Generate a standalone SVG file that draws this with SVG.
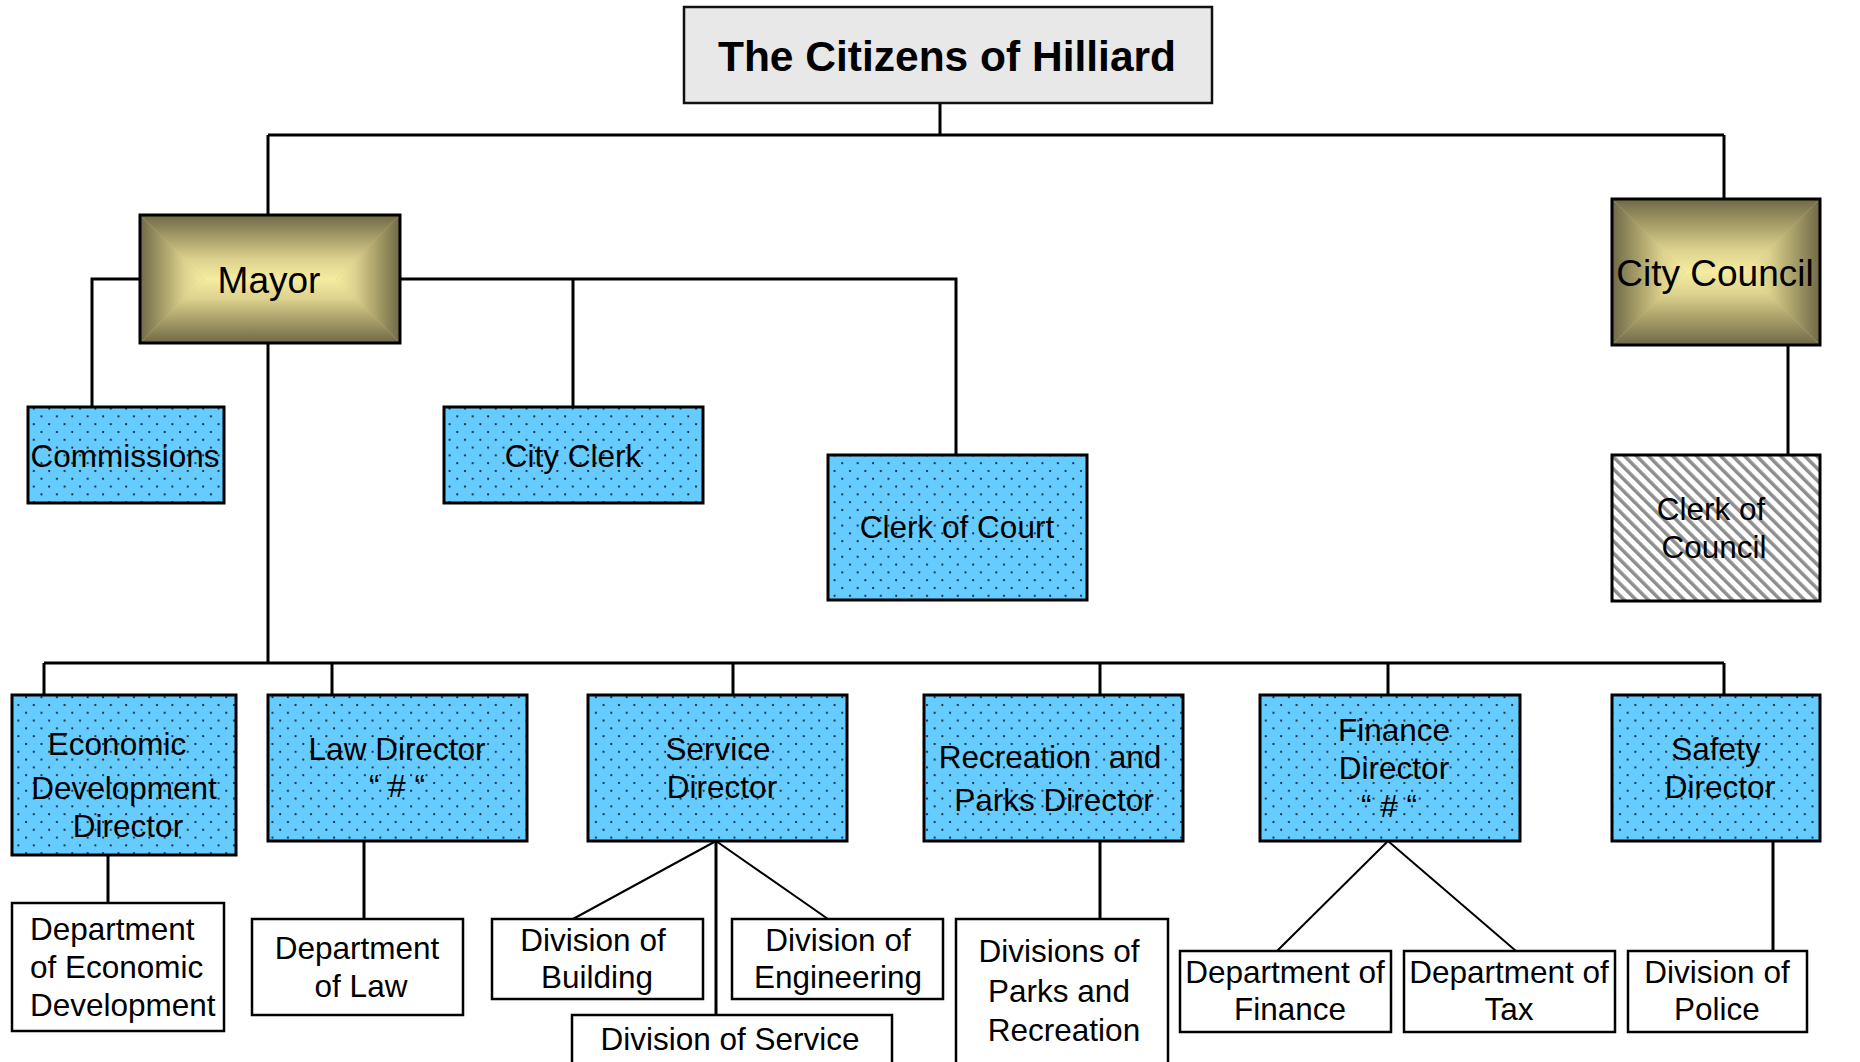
<svg xmlns="http://www.w3.org/2000/svg" width="1860" height="1062" viewBox="0 0 1860 1062">
<style>
text{font-family:"Liberation Sans",Arial,sans-serif;fill:#000;text-anchor:middle}
.t{font-size:31.5px}
.big{font-size:37px}
.title{font-size:42.5px;font-weight:bold}
.blue{fill:url(#dots);stroke:#000;stroke-width:3}
.white{fill:#fff;stroke:#000;stroke-width:2.5}
.edge{fill:none;stroke:#000;stroke-width:3}
.thin{fill:none;stroke:#000;stroke-width:2}
.frame{fill:none;stroke:#000;stroke-width:3}
.under{fill:#c9bf82}
</style>
<defs>
<pattern id="dots" patternUnits="userSpaceOnUse" width="15.4" height="15.6">
<rect width="15.4" height="15.6" fill="#66CCFF"/>
<circle cx="3" cy="3" r="1.1" fill="#0e1c26"/>
<circle cx="10.7" cy="10.8" r="1.1" fill="#0e1c26"/>
</pattern>
<pattern id="hatch" patternUnits="userSpaceOnUse" width="8.5" height="10" patternTransform="rotate(-45)">
<rect width="8.5" height="10" fill="#fff"/>
<rect x="0" y="0" width="3.5" height="10" fill="#8e8e8e"/>
</pattern>
<linearGradient id="gT" x1="0" y1="0" x2="0" y2="1"><stop offset="0" stop-color="#6f6947"/><stop offset="0.35" stop-color="#a69d68"/><stop offset="0.7" stop-color="#ddd28e"/><stop offset="1" stop-color="#f5eca0"/></linearGradient>
<linearGradient id="gB" x1="0" y1="1" x2="0" y2="0"><stop offset="0" stop-color="#6f6947"/><stop offset="0.35" stop-color="#a69d68"/><stop offset="0.7" stop-color="#ddd28e"/><stop offset="1" stop-color="#f5eca0"/></linearGradient>
<linearGradient id="gL" x1="0" y1="0" x2="1" y2="0"><stop offset="0" stop-color="#6f6947"/><stop offset="0.35" stop-color="#a69d68"/><stop offset="0.7" stop-color="#ddd28e"/><stop offset="1" stop-color="#f5eca0"/></linearGradient>
<linearGradient id="gR" x1="1" y1="0" x2="0" y2="0"><stop offset="0" stop-color="#6f6947"/><stop offset="0.35" stop-color="#a69d68"/><stop offset="0.7" stop-color="#ddd28e"/><stop offset="1" stop-color="#f5eca0"/></linearGradient>
</defs>
<rect width="1860" height="1062" fill="#fff"/>

<g id="connectors">
<path class="edge" d="M940,103 V135 M268,135 H1724 M268,135 V215 M1724,135 V199"/>
<path class="edge" d="M140,279 H92 V407 M400,279 H956 V455 M573,279 V407"/>
<path class="edge" d="M268,343 V663 M44,663 H1724 M44,663 V695 M332,663 V695 M733,663 V695 M1100,663 V695 M1388,663 V695 M1724,663 V695"/>
<path class="edge" d="M1788,345 V455"/>
<path class="edge" d="M108,855 V903 M364,841 V919 M716,841 V1015 M1100,841 V933 M1773,841 V951"/>
<path class="thin" d="M716,841 L573,919 M716,841 L828,919 M1388,841 L1277,951 M1388,841 L1516,951"/>
</g>

<g id="citizens">
<rect x="684" y="7" width="528" height="96" fill="#e8e8e8" stroke="#111" stroke-width="2.5"/>
<text class="title" x="947" y="71">The Citizens of Hilliard</text>
</g>

<g id="mayor">
<rect class="under" x="140" y="215" width="260" height="128"/>
<polygon points="140,215 400,215 336,279 204,279" fill="url(#gT)"/>
<polygon points="140,343 400,343 336,279 204,279" fill="url(#gB)"/>
<polygon points="140,215 140,343 204,279" fill="url(#gL)"/>
<polygon points="400,215 400,343 336,279" fill="url(#gR)"/>
<rect class="frame" x="140" y="215" width="260" height="128"/>
<text class="big" x="269" y="293">Mayor</text>
</g>

<g id="city-council">
<rect class="under" x="1612" y="199" width="208" height="146"/>
<polygon points="1612,199 1820,199 1747,272 1685,272" fill="url(#gT)"/>
<polygon points="1612,345 1820,345 1747,272 1685,272" fill="url(#gB)"/>
<polygon points="1612,199 1612,345 1685,272" fill="url(#gL)"/>
<polygon points="1820,199 1820,345 1747,272" fill="url(#gR)"/>
<rect class="frame" x="1612" y="199" width="208" height="146"/>
<text class="big" x="1715" y="286">City Council</text>
</g>

<g id="commissions">
<rect class="blue" x="28" y="407" width="196" height="96"/>
<text class="t" x="125" y="467">Commissions</text>
</g>

<g id="city-clerk">
<rect class="blue" x="444" y="407" width="259" height="96"/>
<text class="t" x="573" y="467">City Clerk</text>
</g>

<g id="clerk-of-court">
<rect class="blue" x="828" y="455" width="259" height="145"/>
<text class="t" x="957" y="538">Clerk of Court</text>
</g>

<g id="clerk-of-council">
<rect x="1612" y="455" width="208" height="146" fill="url(#hatch)" stroke="#000" stroke-width="3"/>
<text class="t" x="1711" y="520">Clerk of</text>
<text class="t" x="1714" y="558">Council</text>
</g>

<g id="econ-dev-director">
<rect class="blue" x="12" y="695" width="224" height="160"/>
<text class="t" x="117" y="755">Economic</text>
<text class="t" x="124" y="799">Development</text>
<text class="t" x="128" y="837">Director</text>
</g>

<g id="law-director">
<rect class="blue" x="268" y="695" width="259" height="146"/>
<text class="t" x="397" y="760">Law Director</text>
<text class="t" x="397" y="797">“ # “</text>
</g>

<g id="service-director">
<rect class="blue" x="588" y="695" width="259" height="146"/>
<text class="t" x="718" y="760">Service</text>
<text class="t" x="722" y="798">Director</text>
</g>

<g id="recreation-director">
<rect class="blue" x="924" y="695" width="259" height="146"/>
<text class="t" x="1050" y="768" xml:space="preserve">Recreation  and</text>
<text class="t" x="1054" y="811">Parks Director</text>
</g>

<g id="finance-director">
<rect class="blue" x="1260" y="695" width="260" height="146"/>
<text class="t" x="1394" y="741">Finance</text>
<text class="t" x="1394" y="779">Director</text>
<text class="t" x="1389" y="817">“ # “</text>
</g>

<g id="safety-director">
<rect class="blue" x="1612" y="695" width="208" height="146"/>
<text class="t" x="1716" y="760">Safety</text>
<text class="t" x="1720" y="798">Director</text>
</g>

<g id="dept-econ-dev">
<rect class="white" x="12" y="903" width="212" height="128"/>
<text class="t" x="30" y="940" style="text-anchor:start">Department</text>
<text class="t" x="30" y="978" style="text-anchor:start">of Economic</text>
<text class="t" x="30" y="1016" style="text-anchor:start">Development</text>
</g>

<g id="dept-law">
<rect class="white" x="252" y="919" width="211" height="96"/>
<text class="t" x="357" y="959">Department</text>
<text class="t" x="361" y="997">of Law</text>
</g>

<g id="div-building">
<rect class="white" x="492" y="919" width="211" height="80"/>
<text class="t" x="593" y="951">Division of</text>
<text class="t" x="597" y="988">Building</text>
</g>

<g id="div-engineering">
<rect class="white" x="732" y="919" width="211" height="80"/>
<text class="t" x="838" y="951">Division of</text>
<text class="t" x="838" y="988">Engineering</text>
</g>

<g id="div-service">
<rect class="white" x="572" y="1015" width="320" height="60"/>
<text class="t" x="730" y="1050">Division of Service</text>
</g>

<g id="div-parks">
<rect class="white" x="956" y="919" width="212" height="160"/>
<text class="t" x="1059" y="962">Divisions of</text>
<text class="t" x="1059" y="1002">Parks and</text>
<text class="t" x="1064" y="1041">Recreation</text>
</g>

<g id="dept-finance">
<rect class="white" x="1180" y="951" width="211" height="81"/>
<text class="t" x="1285" y="983">Department of</text>
<text class="t" x="1290" y="1020">Finance</text>
</g>

<g id="dept-tax">
<rect class="white" x="1404" y="951" width="211" height="81"/>
<text class="t" x="1509" y="983">Department of</text>
<text class="t" x="1509" y="1020">Tax</text>
</g>

<g id="div-police">
<rect class="white" x="1628" y="951" width="179" height="81"/>
<text class="t" x="1717" y="983">Division of</text>
<text class="t" x="1717" y="1020">Police</text>
</g>
</svg>
